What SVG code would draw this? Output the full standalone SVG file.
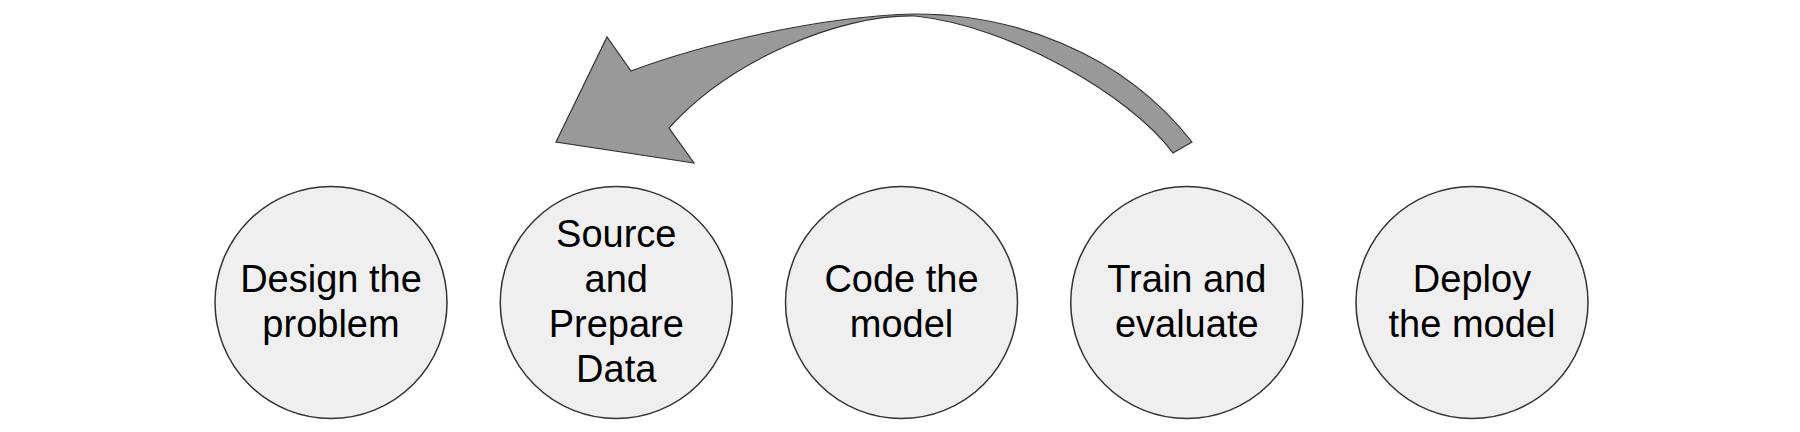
<svg xmlns="http://www.w3.org/2000/svg" width="1800" height="432" viewBox="0 0 1800 432">
<style>
.node circle{fill:#efefef;stroke:#333;stroke-width:1.5}
.node text{font-family:"Liberation Sans",Arial,sans-serif;font-size:38px;fill:#000;text-anchor:middle}
.arrow{fill:#999;stroke:#333;stroke-width:1.2;stroke-linejoin:miter}
</style>
<rect width="1800" height="432" fill="#fff"/>
<g id="connectors">
<path class="arrow" d="M 556,142 L 607,37 L 631,71 C 700,45 820,16 915,14 C 1010,14 1120,50 1192,142 L 1173,153 C 1130,95 1010,26 915,16 C 840,14 730,60 669,128 L 694,163 Z"/>
</g>
<g id="n1" class="node"><circle cx="331" cy="302.5" r="116"/><text x="331" y="292">Design the</text><text x="331" y="337">problem</text></g>
<g id="n2" class="node"><circle cx="616.25" cy="302.5" r="116"/><text x="616.25" y="247">Source</text><text x="616.25" y="292">and</text><text x="616.25" y="337">Prepare</text><text x="616.25" y="382">Data</text></g>
<g id="n3" class="node"><circle cx="901.5" cy="302.5" r="116"/><text x="901.5" y="292">Code the</text><text x="901.5" y="337">model</text></g>
<g id="n4" class="node"><circle cx="1186.75" cy="302.5" r="116"/><text x="1186.75" y="292">Train and</text><text x="1186.75" y="337">evaluate</text></g>
<g id="n5" class="node"><circle cx="1472" cy="302.5" r="116"/><text x="1472" y="292">Deploy</text><text x="1472" y="337">the model</text></g>
</svg>
